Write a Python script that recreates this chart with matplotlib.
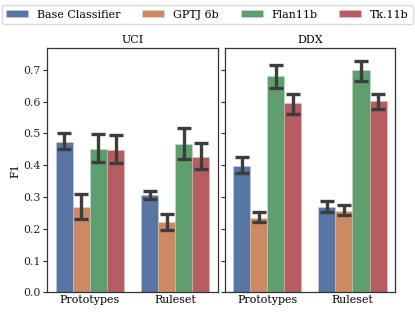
import matplotlib
matplotlib.use("Agg")
import matplotlib.pyplot as plt
import numpy as np
import seaborn as sns

datasets = ["UCI", "DDX"]
groups = ["Prototypes", "Ruleset"]
models = ["Base Classifier", "GPTJ 6b", "Flan11b", "Tk.11b"]

# values[dataset][model] -> [Prototypes, Ruleset]
uci_vals = [[0.474, 0.306], [0.269, 0.220], [0.451, 0.468], [0.448, 0.425]]
uci_lo = [[0.450, 0.294], [0.232, 0.197], [0.410, 0.420], [0.407, 0.387]]
uci_hi = [[0.500, 0.319], [0.308, 0.246], [0.498, 0.518], [0.496, 0.470]]

ddx_vals = [[0.398, 0.270], [0.235, 0.257], [0.679, 0.698], [0.595, 0.602]]
ddx_lo = [[0.376, 0.254], [0.220, 0.242], [0.644, 0.664], [0.562, 0.578]]
ddx_hi = [[0.425, 0.286], [0.253, 0.274], [0.714, 0.729], [0.625, 0.625]]

plt.rcParams['font.family'] = ['DejaVu Serif']
fs = 7.9
plt.rcParams['font.size'] = fs

base_cols = ["#4C72B0", "#DD8452", "#55A868", "#C44E52"]
colors = [sns.desaturate(c, 0.75) for c in base_cols]

dpi = 100
fig, axes = plt.subplots(1, 2, figsize=(4.15, 3.13), dpi=dpi, sharey=True)
fig.subplots_adjust(left=0.114, right=0.952, bottom=0.066, top=0.846, wspace=0.04)

allv = [(uci_vals, uci_lo, uci_hi), (ddx_vals, ddx_lo, ddx_hi)]
x = np.arange(len(groups))
w = 0.2
handles = []
for ax, name, (vals, lo, hi) in zip(axes, datasets, allv):
    for i, m in enumerate(models):
        pos = x - 0.3 + i * w
        v = np.array(vals[i])
        b = ax.bar(pos, v, width=w, color=colors[i], label=m, linewidth=0.6, edgecolor="#ffffff30")
        if ax is axes[0]:
            handles.append(b)
        yerr = np.array([v - np.array(lo[i]), np.array(hi[i]) - v])
        ax.errorbar(pos, v, yerr=yerr, fmt='none', ecolor="#3d3d3d", elinewidth=2.4,
                    capsize=5.0, capthick=2.4)
    ax.set_title(name, fontsize=fs, pad=4)
    ax.set_xticks(x)
    ax.set_xticklabels(groups, fontsize=fs)
    ax.set_xlim(-0.5, 1.5)
    ax.tick_params(axis='x', length=0, pad=2)
    ax.tick_params(axis='y', length=3.0, width=0.8, colors="#262626", labelsize=fs, pad=2)
    for s in ax.spines.values():
        s.set_color("#333333")
        s.set_linewidth(0.9)

axes[0].set_ylim(0, 0.768)
axes[0].set_yticks(np.arange(0, 0.71, 0.1))
axes[0].set_yticklabels([f"{t:.1f}" for t in np.arange(0, 0.71, 0.1)])
axes[0].set_ylabel("F1", fontsize=fs, labelpad=2)
axes[1].tick_params(axis='y', labelleft=False)

fig.legend(handles, models, loc='upper center', ncol=4, bbox_to_anchor=(0.5, 0.99),
           fontsize=fs, frameon=True, fancybox=True, edgecolor="#d0d0d0",
           handlelength=2.0, handleheight=0.6, columnspacing=2.0, borderaxespad=0.2)

fig.savefig("out.png", dpi=dpi)
